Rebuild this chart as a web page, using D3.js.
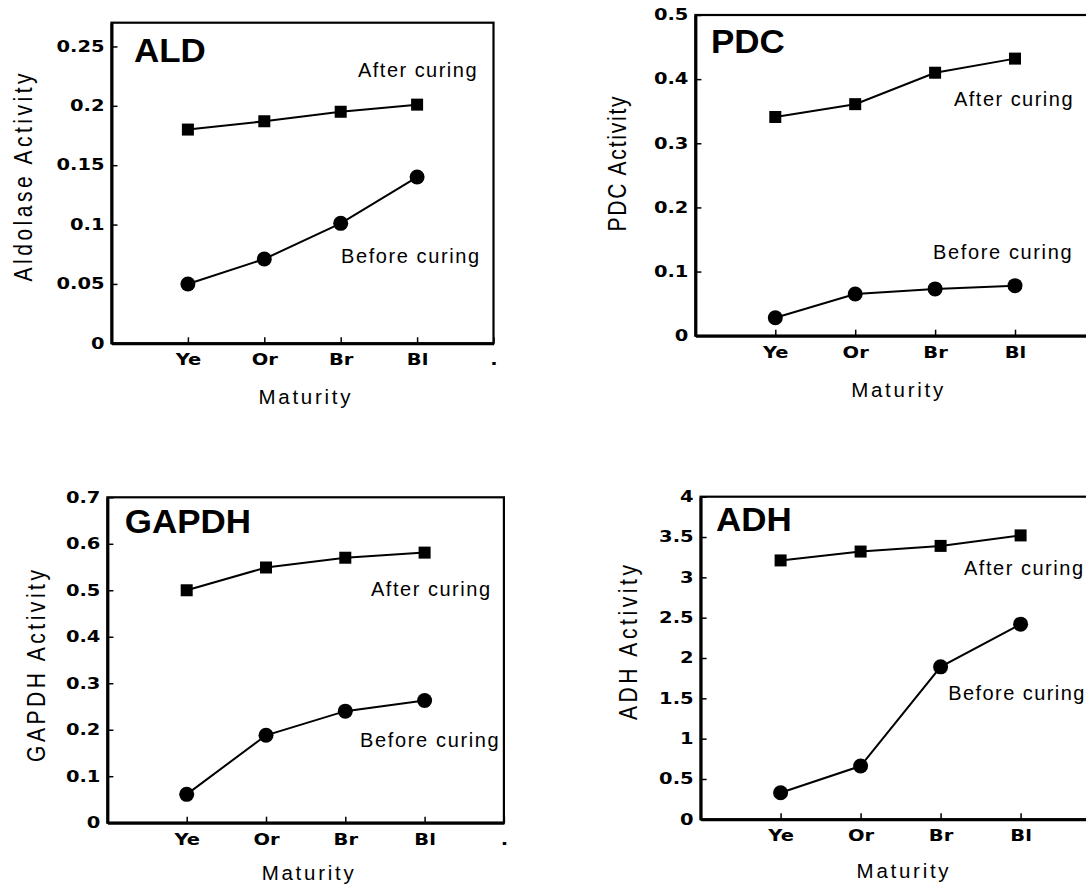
<!DOCTYPE html>
<html lang="en">
<head>
<meta charset="UTF-8">
<title>Enzyme activity vs maturity</title>
<script src="https://d3js.org/d3.v7.min.js"></script>
<style>
  body { margin: 0; background: #fff; }
  text { font-family: 'Liberation Sans', Arial, sans-serif; fill: #000; }
  .tick text { font-family: 'DejaVu Sans', sans-serif; font-weight: bold; font-size: 15px; }
  .tick line { stroke: #000; stroke-width: 1.5px; }
  .domain { stroke: #000; stroke-width: 3px; }
  .title { font-weight: bold; font-size: 33px; }
  .note { font-size: 20px; }
  .ylab { font-size: 21px; }
  .xlab { font-size: 20.5px; }
  .frame { fill: none; stroke: #000; stroke-width: 2.2px; }
  .series { fill: none; stroke: #000; stroke-width: 2px; }
</style>
</head>
<body>
<script>

// data
var categories = ["Ye", "Or", "Br", "Bl"];
var xTickLabels = ["Ye", "Or", "Br", "Bl", "."];

var aldAfter  = [0.180, 0.187, 0.195, 0.201];
var aldBefore = [0.050, 0.071, 0.101, 0.140];
var aldTicks  = [0, 0.05, 0.1, 0.15, 0.2, 0.25];

var pdcAfter  = [0.341, 0.361, 0.410, 0.432];
var pdcBefore = [0.028, 0.065, 0.073, 0.078];
var pdcTicks  = [0, 0.1, 0.2, 0.3, 0.4, 0.5];

var gapdhAfter  = [0.500, 0.549, 0.570, 0.581];
var gapdhBefore = [0.061, 0.188, 0.240, 0.263];
var gapdhTicks  = [0, 0.1, 0.2, 0.3, 0.4, 0.5, 0.6, 0.7];

var adhAfter  = [3.21, 3.32, 3.39, 3.52];
var adhBefore = [0.33, 0.66, 1.89, 2.42];
var adhTicks  = [0, 0.5, 1, 1.5, 2, 2.5, 3, 3.5, 4];

// layout of each panel
var panels = [
  { title: "ALD", yLabel: "Aldolase  Activity", after: aldAfter, before: aldBefore, ticks: aldTicks, yMax: 0.27,
    left: 111.5, top: 22.7, bottom: 343.3, step: 76.4,
    titlePos: [134, 62], afterPos: [358, 77, 118.5], beforePos: [341, 263, 138],
    yLabPos: [31.7, 177.5, 208], matY: 404 },
  { title: "PDC", yLabel: "PDC  Activity", after: pdcAfter, before: pdcBefore, ticks: pdcTicks, yMax: 0.5,
    left: 695.4, top: 15, bottom: 335.7, step: 79.9,
    titlePos: [711, 53.3], afterPos: [954, 105.5, 118.5], beforePos: [933, 259.3, 138.5],
    yLabPos: [626, 164, 135], matY: 397 },
  { title: "GAPDH", yLabel: "GAPDH  Activity", after: gapdhAfter, before: gapdhBefore, ticks: gapdhTicks, yMax: 0.7,
    left: 107.4, top: 497.3, bottom: 822.7, step: 79.3,
    titlePos: [124.7, 533.3], afterPos: [371, 596, 119], beforePos: [360, 747.3, 138.7],
    yLabPos: [45, 666, 192], matY: 880 },
  { title: "ADH", yLabel: "ADH  Activity", after: adhAfter, before: adhBefore, ticks: adhTicks, yMax: 4,
    left: 700.6, top: 496.7, bottom: 819.3, step: 80,
    titlePos: [716, 530.7], afterPos: [964, 574.7, 119], beforePos: [948.3, 700, 136],
    yLabPos: [636.5, 642.5, 155], matY: 878 }
];

var width = 1086, height = 886;
var stretch = 1.3;

var svg = d3.select("body").append("svg").attr("width", width).attr("height", height);
svg.append("rect").attr("width", width).attr("height", height).attr("fill", "#fff");

function drawPanel(p) {
  var right = p.left + 5 * p.step;
  var x = d3.scaleLinear().domain([0, 5]).range([p.left, right]);
  var y = d3.scaleLinear().domain([0, p.yMax]).range([p.bottom, p.top]);
  var g = svg.append("g");

  g.append("rect").attr("class", "frame")
    .attr("x", p.left).attr("y", p.top)
    .attr("width", right - p.left).attr("height", p.bottom - p.top);

  // the stray "." tick only where it falls inside the picture
  var xTicks = [1, 2, 3, 4, 5].filter(function(v) { return x(v) < width - 4; });
  var xAxis = g.append("g").attr("transform", "translate(0," + p.bottom + ")")
    .call(d3.axisBottom(x).tickValues(xTicks)
      .tickFormat(function(d) { return xTickLabels[d - 1]; })
      .tickSizeInner(-6).tickSizeOuter(0));
  xAxis.selectAll(".tick text").attr("y", 22).attr("dy", 0)
    .attr("transform", "scale(" + stretch + ",1)");

  var yAxis = g.append("g").attr("transform", "translate(" + p.left + ",0)")
    .call(d3.axisLeft(y).tickValues(p.ticks).tickFormat(d3.format("~g"))
      .tickSizeInner(-6).tickSizeOuter(0).tickPadding(7));
  yAxis.selectAll(".tick text").attr("x", -7 / stretch)
    .attr("transform", "scale(" + stretch + ",1)");

  var line = d3.line().x(function(d, i) { return x(i + 1); }).y(function(d) { return y(d); });

  g.append("path").attr("class", "series").attr("d", line(p.after));
  g.append("path").attr("class", "series").attr("d", line(p.before));

  g.selectAll(".sq").data(p.after).enter().append("rect")
    .attr("x", function(d, i) { return x(i + 1) - 6; })
    .attr("y", function(d) { return y(d) - 6; })
    .attr("width", 12).attr("height", 12).attr("fill", "#000");

  g.selectAll(".dot").data(p.before).enter().append("circle")
    .attr("cx", function(d, i) { return x(i + 1); })
    .attr("cy", function(d) { return y(d); })
    .attr("r", 7.5).attr("fill", "#000");

  g.append("text").attr("class", "title")
    .attr("transform", "translate(" + p.titlePos[0] + "," + p.titlePos[1] + ") scale(1.06,1)")
    .text(p.title);

  g.append("text").attr("class", "note")
    .attr("x", p.afterPos[0]).attr("y", p.afterPos[1])
    .attr("textLength", p.afterPos[2]).attr("lengthAdjust", "spacing")
    .text("After curing");

  g.append("text").attr("class", "note")
    .attr("x", p.beforePos[0]).attr("y", p.beforePos[1])
    .attr("textLength", p.beforePos[2]).attr("lengthAdjust", "spacing")
    .text("Before curing");

  var matW = 92;
  g.append("text").attr("class", "xlab")
    .attr("x", x(2.5) + 2 - matW / 2).attr("y", p.matY)
    .attr("textLength", matW).attr("lengthAdjust", "spacing")
    .text("Maturity");

  var yl = p.yLabPos;
  g.append("text").attr("class", "ylab")
    .attr("transform", "translate(" + yl[0] + "," + (yl[1] + yl[2] / 2) + ") rotate(-90) scale(1,1.2)")
    .attr("textLength", yl[2]).attr("lengthAdjust", "spacing")
    .text(p.yLabel);
}

panels.forEach(drawPanel);

</script>
</body>
</html>
